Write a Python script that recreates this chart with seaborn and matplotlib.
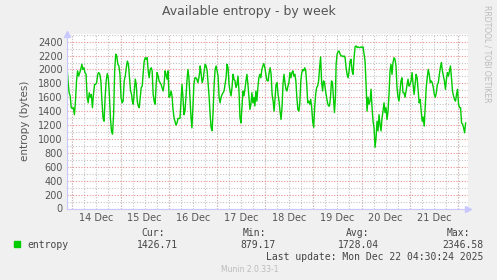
import numpy as np
import pandas as pd
import matplotlib
matplotlib.use("Agg")
import matplotlib.pyplot as plt
import matplotlib.dates as mdates
import seaborn as sns

# ---- data (bytes of available entropy, ~30 min samples) ----
seg1_span = ("2025-12-13 21:21", "2025-12-15 05:31")
seg1 = [2035, 1834, 1666, 1620, 1450, 1440, 1450, 1350, 1545, 1835, 1980, 1905, 1955, 2000, 2075,
        2000, 2025, 1955, 1930, 1600, 1520, 1665, 1600, 1640, 1450, 1640, 1785, 1785, 1810, 1930,
        1955, 1930, 1835, 1545, 1305, 1255, 1600, 1835, 1940, 1880, 1640, 1305, 1115, 1070, 1350,
        1980, 2220, 2195, 2075, 2050, 1930, 1600, 1520, 1545, 1835, 1905, 2025, 2120, 2075, 1880,
        1690, 1640]
seg2_span = ("2025-12-15 05:51", "2025-12-16 15:30")
seg2 = [1545, 1500, 1690, 1860, 1785, 1545, 1475, 1450, 1600, 1740, 1760, 1955, 2120, 2170, 2145,
        2170, 1980, 1880, 2000, 2025, 1980, 1640, 1545, 1500, 1785, 1955, 1905, 1835, 1810, 1785,
        1740, 1690, 1785, 1980, 1930, 1860, 1980, 1600, 1620, 1690, 1620, 1425, 1305, 1255, 1200,
        1230, 1295, 1295, 1295, 1545, 1785, 1600, 1350, 1400, 1600, 1835, 2000, 1880, 1600, 1330,
        1160, 1450, 1785, 1880, 1880, 1860, 1810, 1880, 1980]
seg3_span = ("2025-12-16 15:40", "2025-12-18 01:20")
seg3 = [2050, 1930, 1810, 1860, 1980, 2075, 2050, 1980, 1785, 1600, 1350, 1160, 1120, 1400, 1785,
        2000, 2050, 1980, 1905, 1600, 1520, 1600, 1640, 1665, 1690, 1785, 1880, 2075, 2025, 1785,
        1690, 1620, 1740, 1930, 1860, 1835, 1740, 1785, 1905, 1690, 1305, 1230, 1450, 1690, 1620,
        1715, 1835, 1930, 1785, 1600, 1425, 1500, 1665, 1520, 1600, 1475, 1690, 1545, 1740, 1880,
        1930, 1880, 2000, 2050, 2085, 2025, 1930, 1845, 1835]
seg4_span = ("2025-12-18 01:30", "2025-12-19 11:00")
seg4 = [1835, 1955, 2025, 1930, 1640, 1545, 1400, 1600, 1785, 1810, 1640, 1545, 1400, 1280, 1450,
        1785, 1930, 1810, 1715, 1690, 1760, 1810, 1955, 1880, 1955, 1980, 1905, 1930, 1835, 1600,
        1425, 1400, 1520, 1835, 1955, 2000, 1980, 2025, 1980, 1785, 1520, 1545, 1500, 1570, 1450,
        1255, 1170, 1450, 1640, 1740, 1760, 1835, 2025, 2180, 1835, 1690, 1835, 1810, 1690, 1600,
        1520, 1475, 1475, 1600, 1835, 1810, 1600, 1380, 1600]
seg5_span = ("2025-12-19 11:20", "2025-12-20 20:38")
seg5 = [2075, 2220, 2255, 2265, 2220, 2195, 2195, 2185, 2195, 2170, 2025, 1930, 1880, 1980, 2120,
        2145, 1980, 1930, 2170, 2325, 2340, 2315, 2325, 2315, 2315, 2325, 2315, 2325, 2220, 2120,
        1785, 1400, 1600, 1500, 1545, 1715, 1450, 1255, 1160, 880, 1015, 1255, 1115, 1350, 1210,
        1115, 1305, 1400, 1520, 1380, 1450, 1280, 1400, 1640, 1980, 2075, 1930, 2100, 2170, 2145,
        2050, 1740, 1600, 1545, 1690, 1835, 1880, 1665]
seg6_span = ("2025-12-20 21:08", "2025-12-22 03:49")
seg6 = [1665, 1600, 1690, 1785, 1860, 1760, 1785, 1835, 1955, 1785, 1640, 1785, 1930, 1880, 1690,
        1520, 1570, 1400, 1255, 1315, 1185, 1450, 1740, 1880, 2000, 1930, 1810, 1835, 1810, 1740,
        1640, 1600, 1665, 1785, 1810, 1930, 2025, 2100, 1980, 1905, 1835, 1715, 1860, 1955, 1905,
        1980, 2050, 1880, 1690, 1620, 1570, 1545, 1640, 1715, 1500, 1450, 1450, 1230, 1215, 1160,
        1090, 1230]

segments = [(seg1_span, seg1), (seg2_span, seg2), (seg3_span, seg3),
            (seg4_span, seg4), (seg5_span, seg5), (seg6_span, seg6)]

legend_label = "entropy"
stat_headers = ["Cur:", "Min:", "Avg:", "Max:"]
stat_values = ["1426.71", "879.17", "1728.04", "2346.58"]
last_update = "Last update: Mon Dec 22 04:30:24 2025"
title = "Available entropy - by week"
ylabel = "entropy (bytes)"

frames = []
for (start, end), vals in segments:
    t = pd.date_range(start, end, periods=len(vals))
    frames.append(pd.DataFrame({"time": t, "entropy": vals}))
df = pd.concat(frames, ignore_index=True)

# ---- figure ----
W, H = 497, 280
fig = plt.figure(figsize=(W / 100, H / 100), dpi=100, facecolor="#F0F0F0")
ax = fig.add_axes([67 / W, (H - 208.5) / H, 401 / W, 174.5 / H])
ax.set_facecolor("white")

LINE = "#00CC00"
sns.lineplot(data=df, x="time", y="entropy", ax=ax, color=LINE, linewidth=1.0)

xmin = pd.Timestamp("2025-12-13 21:21")
xmax = pd.Timestamp("2025-12-22 05:00")
ax.set_xlim(xmin, xmax)
ax.set_ylim(0, 2510)

RED = "#EE9090"
GREY = "#C4C4C4"
DOT = (0, (1, 1.5))

# y grid
ax.yaxis.set_major_locator(matplotlib.ticker.MultipleLocator(200))
ax.yaxis.set_minor_locator(matplotlib.ticker.MultipleLocator(100))
ax.grid(which="major", axis="y", color=RED, linestyle=DOT, linewidth=0.8)
ax.grid(which="minor", axis="y", color=GREY, linestyle=DOT, linewidth=0.8)

# x grid
ax.xaxis.set_major_locator(mdates.HourLocator(byhour=[12]))
ax.xaxis.set_major_formatter(mdates.DateFormatter("%d %b"))
ax.xaxis.set_minor_locator(mdates.HourLocator(byhour=[0, 6, 18]))
ax.grid(which="both", axis="x", color=GREY, linestyle=DOT, linewidth=0.8)
for d in pd.date_range("2025-12-14", "2025-12-22", freq="D"):
    ax.axvline(d, color=RED, linestyle=DOT, linewidth=0.8, zorder=0.5)
ax.set_axisbelow(True)

ax.tick_params(which="both", length=0, labelsize=7, colors="#555555", pad=3)
ax.set_xlabel("")
ax.set_ylabel(ylabel, fontsize=7.5, color="#555555", labelpad=6)

for s in ["top", "right"]:
    ax.spines[s].set_visible(False)
for s in ["left", "bottom"]:
    ax.spines[s].set_color("#C8C8FF")
    ax.spines[s].set_linewidth(0.8)
# axis arrows
ax.plot([0], [1.0], marker="^", color="#C8C8FF", markersize=4, transform=ax.transAxes, clip_on=False)
ax.plot([1.0], [0], marker=">", color="#C8C8FF", markersize=4, transform=ax.transAxes, clip_on=False)

# title
fig.text(0.5, 1 - 12 / H, title, ha="center", va="center", fontsize=9, color="#555555")
# rrdtool credit
fig.text(487 / W, 1 - 5 / H, "RRDTOOL / TOBI OETIKER", rotation=270, ha="center", va="top",
         fontsize=5.5, color="#BBBBBB")

# legend
mono = "DejaVu Sans Mono"
fig.patches.append(matplotlib.patches.Rectangle((14 / W, 1 - 247 / H), 6 / W, 6 / H,
                                                transform=fig.transFigure, color=LINE))
fig.text(27 / W, 1 - 245 / H, legend_label, ha="left", va="center", fontsize=7,
         family=mono, color="#444444")
head_x = [141, 243, 346, 447]
val_x = [178, 276, 379, 483]
for hx, vx, h, v in zip(head_x, val_x, stat_headers, stat_values):
    fig.text(hx / W, 1 - 233 / H, h, ha="left", va="center", fontsize=7, family=mono, color="#444444")
    fig.text(vx / W, 1 - 245 / H, v, ha="right", va="center", fontsize=7, family=mono, color="#444444")
fig.text(483 / W, 1 - 257 / H, last_update, ha="right", va="center", fontsize=7,
         family=mono, color="#444444")
fig.text(250 / W, 1 - 269 / H, "Munin 2.0.33-1", ha="center", va="center", fontsize=5.5,
         color="#BBBBBB")

fig.savefig("out.png", dpi=100, facecolor=fig.get_facecolor())
